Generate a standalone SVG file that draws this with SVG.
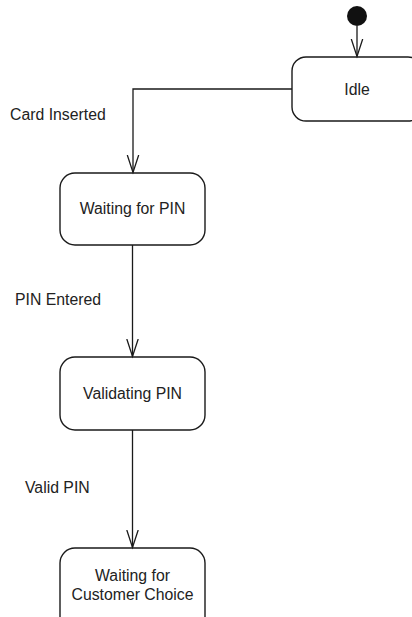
<svg xmlns="http://www.w3.org/2000/svg" width="412" height="617" viewBox="0 0 412 617">
<style>
.state{fill:#fff;stroke:#1a1a1a;stroke-width:1.4}
.lbl{font-family:"Liberation Sans",Arial,sans-serif;font-size:15.8px;fill:#222}
.c{text-anchor:middle}
.edge{fill:none;stroke:#1a1a1a;stroke-width:1.3}
</style>
<defs>
<marker id="open" markerWidth="20" markerHeight="14" refX="17.5" refY="6" orient="auto" markerUnits="userSpaceOnUse" viewBox="0 0 20 12">
<path d="M0,0.3 L17.5,6 L0,11.7" fill="none" stroke="#1a1a1a" stroke-width="1.3"/>
</marker>
</defs>
<rect width="412" height="617" fill="#fff"/>
<g id="initial"><circle cx="357" cy="16" r="10" fill="#111"/></g>
<g id="idle"><rect class="state" x="292" y="57" width="130" height="64" rx="14"/><text class="lbl c" x="357" y="95">Idle</text></g>
<g id="waitingPin"><rect class="state" x="60" y="173" width="145" height="72" rx="15"/><text class="lbl c" x="132.5" y="214">Waiting for PIN</text></g>
<g id="validating"><rect class="state" x="60" y="357" width="145" height="73" rx="15"/><text class="lbl c" x="132.5" y="399">Validating PIN</text></g>
<g id="waitingChoice"><rect class="state" x="60" y="548" width="145" height="90" rx="15"/><text class="lbl c" x="132.5" y="581">Waiting for</text><text class="lbl c" x="132.5" y="600">Customer Choice</text></g>
<g id="connectors">
<path class="edge" d="M357,26 V56.5" marker-end="url(#open)"/>
<path class="edge" d="M292,89 H133 V172.5" marker-end="url(#open)"/>
<path class="edge" d="M132.5,245 V356.5" marker-end="url(#open)"/>
<path class="edge" d="M132.5,430 V547.5" marker-end="url(#open)"/>
<text class="lbl" x="10" y="120">Card Inserted</text>
<text class="lbl" x="15" y="305">PIN Entered</text>
<text class="lbl" x="25" y="493">Valid PIN</text>
</g>
</svg>
